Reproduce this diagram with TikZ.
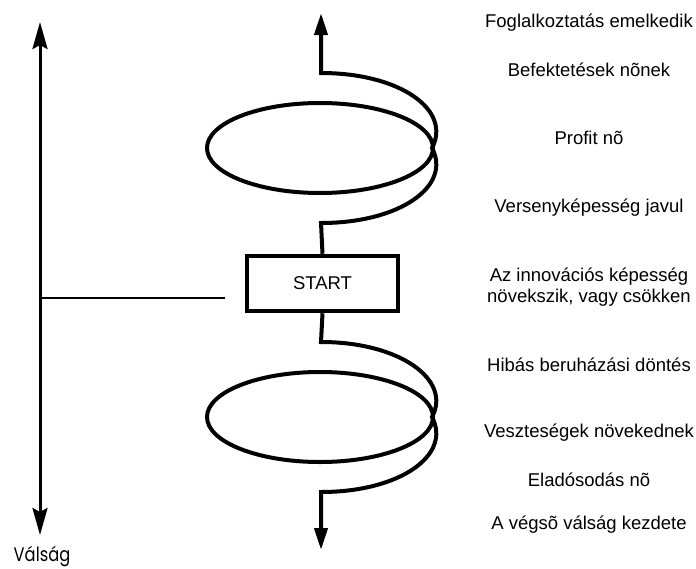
\documentclass[tikz,border=0pt]{standalone}
\usepackage{fontspec}
\setmainfont{Liberation Sans}
\newfontfamily\valfont{Poppins}
\usetikzlibrary{arrows.meta}
\begin{document}
\begin{tikzpicture}[x=1pt,y=-1pt,
  spiral/.style={line width=4pt},
  lbl/.style={font=\fontsize{18.5}{21}\selectfont, align=center, inner sep=0pt},
  startbox/.style={draw, line width=4.5pt, minimum width=151pt, minimum height=55pt, font=\fontsize{18.5}{21}\selectfont, inner sep=0pt},
  sptip/.style={-{Triangle[length=22pt,width=13pt]}},
  axtip/.style={{Stealth[length=27pt,width=15pt,inset=4pt]}-{Stealth[length=27pt,width=15pt,inset=4pt]}}
]
\useasboundingbox (0,0) rectangle (696,568);
\fill[white] (0,0) rectangle (696,568);

% left axis
\coordinate (ltop) at (40,22);
\coordinate (lbot) at (40,535);
\coordinate (lmid) at (40,298);
\coordinate (lend) at (225,298);
\draw[line width=3pt, axtip] (lbot) -- (ltop);
\draw[line width=1.3pt] (lmid) -- (lend);
\node[font=\valfont\fontsize{17.5}{20}\selectfont, inner sep=0pt] (valsag) at (42,556) {\scalebox{0.93}[1.12]{Válság}};

% start box
\node[startbox] (start) at (322.5,283.5) {START};

% top spiral
\coordinate (a1) at (321,223);
\coordinate (a2) at (432,148);
\coordinate (a3) at (321,73);
\coordinate (toptip) at (321,13);
\draw[spiral] (320,148) ellipse [x radius=113pt, y radius=45pt];
\draw[spiral, sptip, line join=miter] (start.north) -- (a1)
  .. controls (400,223) and (452,186) .. (a2)
  .. controls (452,110) and (400,73) .. (a3) -- (toptip);

% bottom spiral
\coordinate (b1) at (321,342);
\coordinate (b2) at (432,417);
\coordinate (b3) at (321,492);
\coordinate (bottip) at (321,550);
\draw[spiral] (320,417) ellipse [x radius=113pt, y radius=45pt];
\draw[spiral, sptip, line join=miter] (start.south) -- (b1)
  .. controls (400,342) and (452,380) .. (b2)
  .. controls (452,455) and (400,492) .. (b3) -- (bottip);

% right labels
\node[lbl] (t1) at (589,23) {Foglalkoztatás emelkedik};
\node[lbl] (t2) at (589,70) {Befektetések nõnek};
\node[lbl] (t3) at (589,138) {Profit nõ};
\node[lbl] (t4) at (589,208) {Versenyképesség javul};
\node[lbl] (t5) at (589,287.5) {Az innovációs képesség\\növekszik, vagy csökken};
\node[lbl] (t6) at (589,365) {Hibás beruházási döntés};
\node[lbl] (t7) at (589,433) {Veszteségek növekednek};
\node[lbl] (t8) at (589,480) {Eladósodás nõ};
\node[lbl] (t9) at (589,525) {A végsõ válság kezdete};
\end{tikzpicture}
\end{document}
